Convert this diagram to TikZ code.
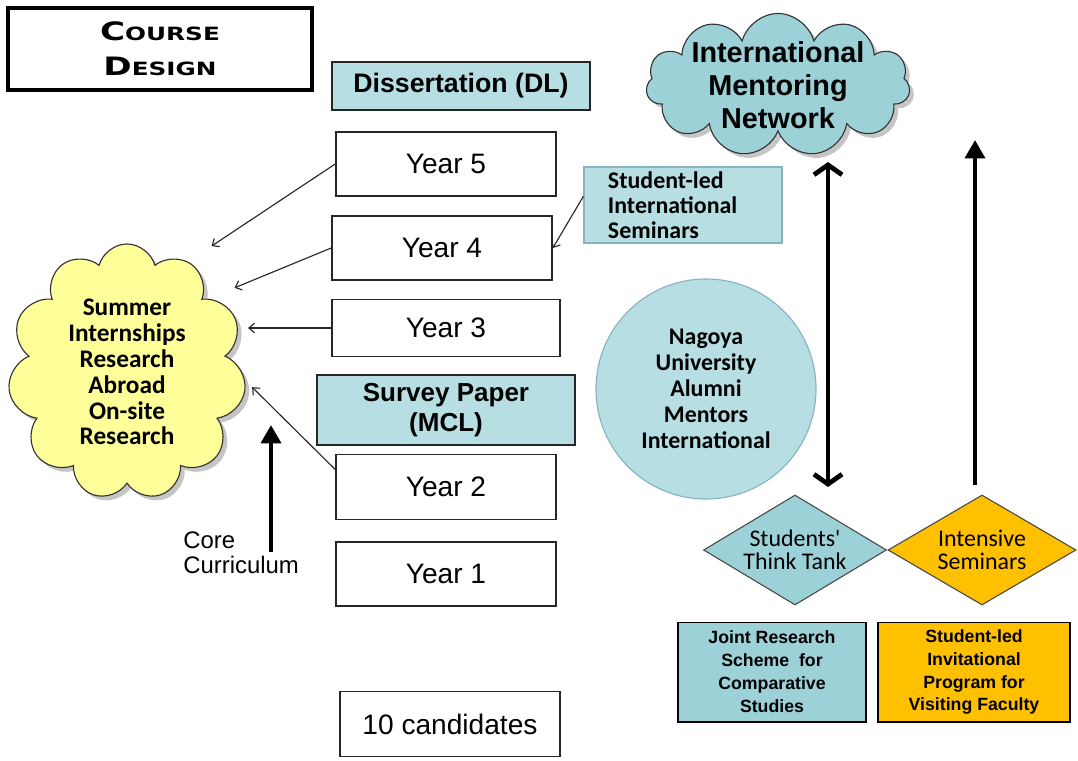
\documentclass[tikz,border=0pt]{standalone}
\usepackage{fontspec}
\setmainfont{Liberation Sans}
\newfontfamily\calib{Carlito}
\newfontfamily\wide{DejaVu Sans}
\usetikzlibrary{arrows.meta,shapes.geometric,shapes.symbols,shadows}
\definecolor{paleblue}{HTML}{B7DEE3}
\definecolor{deepblue}{HTML}{9DD1D8}
\definecolor{amber}{HTML}{FFC000}
\definecolor{lemon}{HTML}{FFFF99}
\definecolor{rim}{HTML}{86B3BD}
\tikzset{
  yearbox/.style={draw=black!85, line width=1.1pt, fill=white, inner sep=0pt, font=\fontsize{20}{24}\selectfont},
  goalbox/.style={draw=black!85, line width=1.1pt, fill=paleblue, inner sep=0pt, align=center, font=\bfseries\fontsize{19}{21}\selectfont},
  puff/.style={cloud, cloud puffs=11, cloud ignores aspect, draw=black!80, line width=0.8pt, inner sep=0pt, align=center,
    drop shadow={shadow xshift=3pt, shadow yshift=-3pt, fill=black!45}},
  plan/.style={draw=black, line width=1.4pt, inner sep=0pt, align=center, font=\bfseries\fontsize{12.6}{16.3}\selectfont},
  gem/.style={diamond, shape aspect=1.66, draw=black!70, line width=0.8pt, inner sep=0pt, align=center, font=\calib\fontsize{17}{16.5}\selectfont},
  feed/.style={draw=black!85, line width=0.8pt, -{Straight Barb[length=4pt,width=7pt]}},
  flow/.style={line width=3pt, -{Triangle[length=13pt,width=14pt]}},
  both/.style={line width=3.4pt, {Straight Barb[length=7pt,width=20pt]}-{Straight Barb[length=7pt,width=20pt]}},
}
\begin{document}
\begin{tikzpicture}[x=0.025cm, y=-0.025cm]
  \useasboundingbox (0,0) rectangle (1078,761);
  % title
  \node[draw, line width=2.6pt, minimum width=7.6cm, minimum height=2.05cm, inner sep=0pt, align=center,
    font=\wide\bfseries\fontsize{18}{25}\selectfont] (title) at (160,49)
    {\scalebox{1.35}[1]{C\fontsize{13}{25}\selectfont OURSE}\\\scalebox{1.35}[1]{D\fontsize{13}{25}\selectfont ESIGN}};
  % years
  \foreach \n/\x/\y/\w/\h in {5/446/164/5.5/1.6, 4/442/248/5.5/1.6, 3/446/328/5.7/1.425, 2/446/487/5.5/1.625, 1/446/574/5.5/1.6}
    \node[yearbox, minimum width=\w cm, minimum height=\h cm] (y\n) at (\x,\y) {Year \n};
  \node[yearbox, minimum width=5.5cm, minimum height=1.625cm] (cand) at (450,724) {10 candidates};
  \node[goalbox, minimum width=6.45cm, minimum height=1.2cm] (diss) at (461,86) {Dissertation (DL)};
  \node[goalbox, font=\bfseries\fontsize{18.5}{21}\selectfont, minimum width=6.45cm, minimum height=1.75cm] (survey) at (446,410) {Survey Paper\\(MCL)};
  % side elements
  \node[draw=rim, line width=0.8pt, fill=paleblue, text width=3.75cm, inner xsep=0.6cm, inner ysep=0pt,
    minimum height=1.9cm, align=left, font=\calib\bfseries\fontsize{17}{17.7}\selectfont] (sem) at (683,205)
    {Student-led\\International\\Seminars};
  \node[puff, fill=lemon, minimum width=5.95cm, minimum height=6.4cm, font=\calib\bfseries\fontsize{18}{18.4}\selectfont]
    (sum) at (127,372) {Summer\\Internships\\Research\\Abroad\\On-site\\Research};
  \node[puff, inner sep=-14pt, fill=deepblue, minimum width=6.6cm, minimum height=3.575cm, font=\bfseries\fontsize{20.5}{23.4}\selectfont]
    (net) at (778,85) {International\\Mentoring\\Network};
  \node[circle, draw=rim, line width=0.8pt, fill=paleblue, minimum size=5.5cm, inner sep=0pt, align=center,
    font=\calib\bfseries\fontsize{17}{18.4}\selectfont] (alum) at (706,389)
    {Nagoya\\University\\Alumni\\Mentors\\International};
  \node[gem, fill=deepblue, minimum width=4.575cm, minimum height=2.75cm] (tank) at (795,550) {Students'\\Think Tank};
  \node[gem, fill=amber, minimum width=4.7cm, minimum height=2.75cm] (intens) at (982,550) {Intensive\\Seminars};
  \node[plan, fill=deepblue, minimum width=4.7cm, minimum height=2.475cm] (joint) at (772,672)
    {Joint Research\\Scheme \ for\\Comparative\\Studies};
  \node[plan, fill=amber, minimum width=4.8cm, minimum height=2.475cm] (invit) at (974,672)
    {Student-led\\Invitational\\Program for\\Visiting Faculty};
  \node[anchor=west, align=left, inner sep=0pt, font=\fontsize{17}{17.7}\selectfont] (core) at (183,553) {Core\\Curriculum};
  % connectors
  \draw[feed, shorten >=20pt] (y5.west) -- (sum.61);
  \draw[feed, shorten >=20pt] (y4.west) -- (sum.42);
  \draw[feed, shorten >=4pt] (y3.west) -- (y3.west -| sum.east);
  \draw[feed, shorten >=7pt] (y2.171) -- (sum.-4);
  \draw[feed] (sem.175) -- (y4.east);
  \coordinate (c0) at (271,552);
  \coordinate (c1) at (271,425);
  \draw[flow] (c0) -- (c1);
  \coordinate (m0) at (828,162);
  \coordinate (m1) at (828,487);
  \draw[both] (m0) -- (m1);
  \coordinate (s0) at (975,485);
  \coordinate (s1) at (975,140);
  \draw[flow] (s0) -- (s1);
\end{tikzpicture}
\end{document}
